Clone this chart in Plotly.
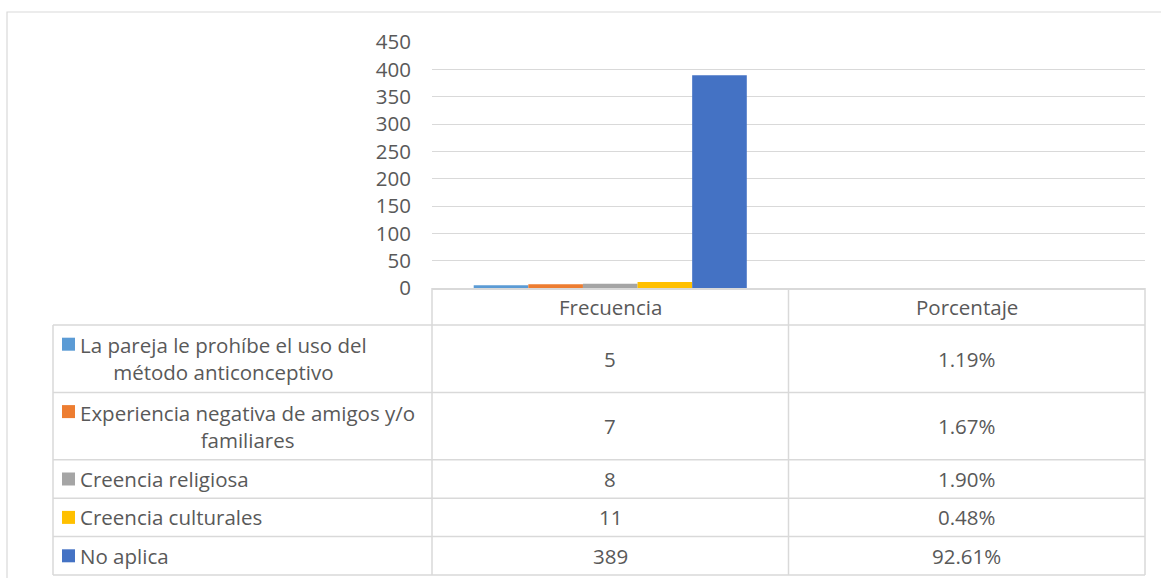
import plotly.graph_objects as go

# ---------------- data ----------------
categories = ["Frecuencia", "Porcentaje"]
series_labels = [
    "La pareja le prohíbe el uso del<br>método anticonceptivo",
    "Experiencia negativa de amigos y/o<br>familiares",
    "Creencia religiosa",
    "Creencia culturales",
    "No aplica",
]
frecuencia = [5, 7, 8, 11, 389]
porcentaje = [1.19, 1.67, 1.90, 0.48, 92.61]
y_tickvals = [0, 50, 100, 150, 200, 250, 300, 350, 400, 450]

# ---------------- styles / layout constants ----------------
colors = ["#5B9BD5", "#ED7D31", "#A5A5A5", "#FFC000", "#4472C4"]
FONT = "Open Sans"
FS = 20.5
TXT = "#595959"
GRID = "#d9d9d9"
W, H = 1161, 578
PL, PR, PT, PB = 432, 1145, 42, 288   # plot area in pixels
TABLE_LEFT = 53
HEADER_BOTTOM = 325
ROW_ONE = 38.4
LINE_STEP = 29
KEY_X0, KEY_SIZE, LABEL_X = 62, 13, 79


def fx(px):
    return (px - PL) / (PR - PL)


def fy(py):
    return (PB - py) / (PB - PT)


fig = go.Figure()
# Only the frequency bars are visible in the chart (percent values are ~0 on this scale)
for i, lab in enumerate(series_labels):
    fig.add_trace(go.Bar(
        x=[categories[0]],
        y=[frecuencia[i]],
        name=lab.replace("<br>", " "),
        marker=dict(color=colors[i], line=dict(width=0)),
        showlegend=False,
    ))

shapes = []
annotations = []
line_style = dict(color=GRID, width=1.5)

# outer chart border
shapes.append(dict(type="rect", xref="paper", yref="paper",
                   x0=fx(7), x1=fx(1180), y0=fy(12), y1=fy(600),
                   line=dict(color=GRID, width=1.2), fillcolor="rgba(0,0,0,0)", layer="below"))

# header texts (category names on the category axis)
for c in categories:
    annotations.append(dict(xref="x", yref="paper", x=c, y=fy((PB + HEADER_BOTTOM) / 2),
                            text=c, showarrow=False, xanchor="center", yanchor="middle",
                            font=dict(family=FONT, size=FS, color=TXT)))

# table rows
row_top = HEADER_BOTTOM
for i, lab in enumerate(series_labels):
    n = len(lab.split("<br>"))
    row_h = ROW_ONE + (n - 1) * LINE_STEP
    row_bot = row_top + row_h
    first_c = row_top + (row_h - (n - 1) * LINE_STEP) / 2
    row_c = (row_top + row_bot) / 2
    # key square
    shapes.append(dict(type="rect", xref="paper", yref="paper",
                       x0=fx(KEY_X0), x1=fx(KEY_X0 + KEY_SIZE),
                       y0=fy(first_c - KEY_SIZE / 2), y1=fy(first_c + KEY_SIZE / 2),
                       line=dict(width=0), fillcolor=colors[i]))
    # label (block centred lines, block left aligned after the key)
    annotations.append(dict(xref="paper", yref="paper", x=fx(LABEL_X), y=fy(row_c),
                            text=lab, showarrow=False,
                            xanchor="left", yanchor="middle", align="center",
                            borderpad=0,
                            font=dict(family=FONT, size=FS, color=TXT)))
    # values
    for c, txt in zip(categories, [str(frecuencia[i]), f"{porcentaje[i]:.2f}%"]):
        annotations.append(dict(xref="x", yref="paper", x=c, y=fy(row_c),
                                text=txt, showarrow=False, xanchor="center", yanchor="middle",
                                font=dict(family=FONT, size=FS, color=TXT)))
    # bottom line of row
    shapes.append(dict(type="line", xref="paper", yref="paper",
                       x0=fx(TABLE_LEFT), x1=1, y0=fy(row_bot), y1=fy(row_bot), line=line_style))
    row_top = row_bot

table_bottom = row_top
# header bottom line
shapes.append(dict(type="line", xref="paper", yref="paper",
                   x0=fx(TABLE_LEFT), x1=1, y0=fy(HEADER_BOTTOM), y1=fy(HEADER_BOTTOM), line=line_style))
# vertical lines
shapes.append(dict(type="line", xref="paper", yref="paper",
                   x0=fx(TABLE_LEFT), x1=fx(TABLE_LEFT), y0=fy(HEADER_BOTTOM), y1=fy(table_bottom),
                   line=line_style))
for xv in [0, 0.5, 1]:
    shapes.append(dict(type="line", xref="paper", yref="paper",
                       x0=xv, x1=xv, y0=0, y1=fy(table_bottom), line=line_style))

fig.update_layout(
    width=W, height=H,
    margin=dict(l=PL, r=W - PR, t=PT, b=H - PB, pad=0),
    paper_bgcolor="white", plot_bgcolor="white",
    barmode="group", bargap=0.234, bargroupgap=0,
    font=dict(family=FONT, size=FS, color=TXT),
    xaxis=dict(type="category", categoryorder="array", categoryarray=categories,
               range=[-0.5, 1.5], showticklabels=False, ticks="",
               showgrid=False, showline=True, linecolor=GRID, linewidth=1.5, zeroline=False),
    yaxis=dict(range=[0, 450], tickvals=y_tickvals, showgrid=True, gridcolor=GRID, gridwidth=1.3,
               zeroline=False, showline=False, ticks="", ticklabelstandoff=20,
               tickfont=dict(family=FONT, size=FS, color=TXT)),
    shapes=shapes, annotations=annotations,
)

fig.write_html("out.html", config={"displayModeBar": False},
               post_script="document.body.style.margin='0';document.body.style.overflow='hidden';")
